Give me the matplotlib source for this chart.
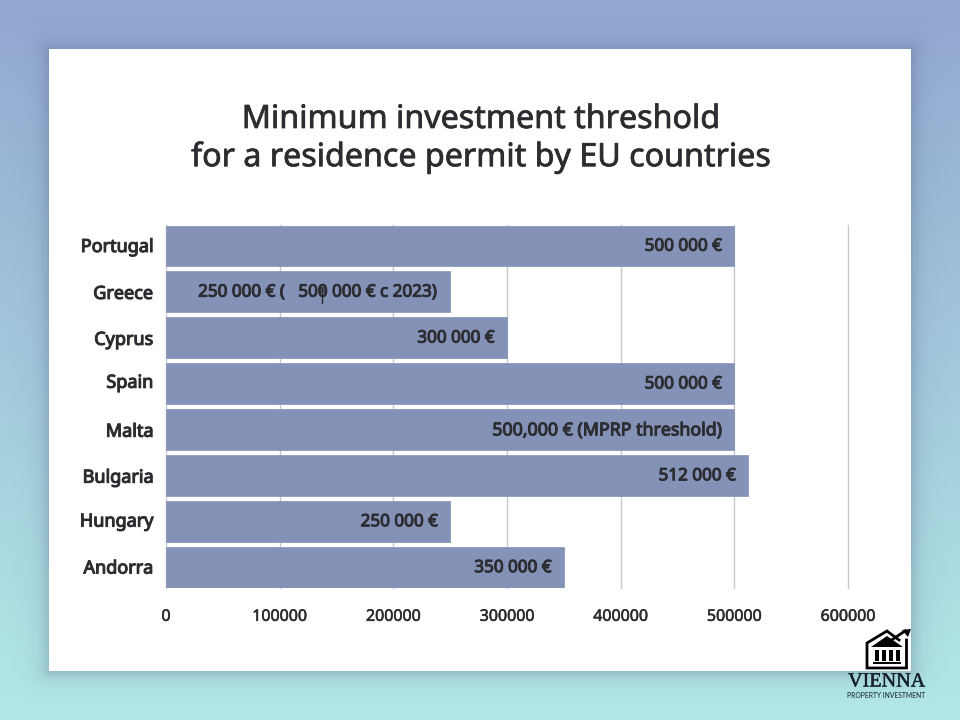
import matplotlib as mpl
import matplotlib.patheffects as pe
import matplotlib.pyplot as plt
import matplotlib.transforms as mtrans
import numpy as np
from matplotlib.patches import Polygon, Rectangle

countries = ['Portugal', 'Greece', 'Cyprus', 'Spain', 'Malta', 'Bulgaria', 'Hungary', 'Andorra']
thresholds = [500000, 250000, 300000, 500000, 500000, 512000, 250000, 350000]
value_labels = ['500 000 €', '250 000 € (   500 000 € c 2023)', '300 000 €', '500 000 €',
                '500,000 € (MPRP threshold)', '512 000 €', '250 000 €', '350 000 €']
xticks = [0, 100000, 200000, 300000, 400000, 500000, 600000]

W, H = 960, 720
BAR = '#8492b7'
DARK = '#2c2c31'

mpl.rcParams['font.family'] = ['Noto Sans', 'Open Sans', 'DejaVu Sans']

# Noto Sans only comes in regular here, so thicken it with a stroke
def heavy(w, color=DARK):
    return [pe.withStroke(linewidth=w, foreground=color)]

fig = plt.figure(figsize=(W/100, H/100), dpi=100)


# background, shadow and card in pixel coordinates
bg = fig.add_axes([0, 0, 1, 1], zorder=0)
bg.set_xlim(0, W)
bg.set_ylim(H, 0)
bg.axis('off')

top = np.array([0x93, 0xa7, 0xd1]) / 255
bottom = np.array([0xb2, 0xe9, 0xe6]) / 255
t = np.linspace(0, 1, 256)[:, None, None]
bg.imshow(top*(1-t) + bottom*t, extent=(0, W, H, 0), aspect='auto', zorder=0)

xx, yy = np.meshgrid(np.arange(W) + 0.5, np.arange(H) + 0.5)
dx = np.maximum(np.maximum(49 - xx, xx - 911), 0)
dy = np.maximum(np.maximum(49 - yy, yy - 671), 0)
dist = np.hypot(dx, dy)
shadow = np.zeros((H, W, 4))
shadow[..., :3] = (0.30, 0.36, 0.50)
shadow[..., 3] = 0.28*np.exp(-dist/9)
bg.imshow(shadow, extent=(0, W, H, 0), aspect='auto', zorder=1)
bg.set_xlim(0, W)
bg.set_ylim(H, 0)
bg.add_patch(Rectangle((49, 49), 862, 622, fc='white', ec='none', zorder=2))

bg.text(481, 119.5, 'Minimum investment threshold', ha='center', va='center', fontsize=23.2,
        color=DARK, zorder=3, path_effects=heavy(0.5))
bg.text(481, 157.5, 'for a residence permit by EU countries', ha='center', va='center', fontsize=23.2,
        color=DARK, zorder=3, path_effects=heavy(0.5))


# the chart itself
ax = fig.add_axes([166/W, 1 - 588/H, 682/W, 363/H], zorder=1)
ax.patch.set_alpha(0)
ypos = np.arange(len(countries))
ax.barh(ypos, thresholds, height=0.89, color=BAR, edgecolor=BAR, linewidth=0.5,
        joinstyle='round', zorder=2)
ax.set_xlim(0, 600000)
ax.set_ylim(7.447, -0.457)
ax.set_xticks(xticks)
ax.set_xticklabels([str(x) for x in xticks], fontsize=11.5, color=DARK, path_effects=heavy(0.4))
ax.set_yticks(ypos)
ax.set_yticklabels(countries, fontsize=13, color=DARK, path_effects=heavy(0.8))
ax.tick_params(axis='both', length=0)
ax.tick_params(axis='x', pad=15)
ax.tick_params(axis='y', pad=9)
ax.grid(axis='x', color='#c9c9c9', lw=1, zorder=1, clip_on=False)
ax.set_axisbelow(True)
for s in ax.spines.values():
    s.set_visible(False)

# the country labels sit a little unevenly in the original
label_shift = [1, 0, 0, 3, 0, 0, 2, 1]
for lab, d in zip(ax.get_yticklabels(), label_shift):
    lab.set_transform(lab.get_transform() + mtrans.ScaledTranslation(0, d/100, fig.dpi_scale_trans))

for y, v, lab in zip(ypos, thresholds, value_labels):
    size = 12.8 if 'MPRP' in lab else 12.3
    ax.annotate(lab, (v, y), xytext=(-8.5, -0.5), textcoords='offset points', ha='right',
                va='center', fontsize=size, color=DARK, zorder=3, path_effects=heavy(0.75))


# stray mark in the Greece label and the logo, on top of everything
top_ax = fig.add_axes([0, 0, 1, 1], zorder=2)
top_ax.set_xlim(0, W)
top_ax.set_ylim(H, 0)
top_ax.axis('off')
top_ax.plot([322, 322], [287, 303], color=DARK, lw=1)
top_ax.add_patch(Rectangle((319, 287), 6, 6, fc=DARK, ec='none', alpha=0.6))

top_ax.plot([906.5, 906.5, 867, 867, 887, 899], [640, 668, 668, 643, 631, 640],
            color='black', lw=2, solid_joinstyle='miter')
top_ax.plot([893, 905], [639, 631], color='black', lw=2)
top_ax.add_patch(Polygon([[911, 629], [902, 630], [908, 637]], fc='black', ec='none'))
top_ax.add_patch(Polygon([[871, 647], [887, 636], [903, 647]], fc='black', ec='none'))
for cx in (877, 884, 891, 898):
    top_ax.add_patch(Rectangle((cx - 1.6, 650), 3.2, 11, fc='black', ec='none'))
top_ax.add_patch(Rectangle((873, 662), 28, 2.4, fc='black', ec='none'))

top_ax.text(886.5, 682, 'VIENNA', ha='center', va='center', fontsize=14.5,
            family='Liberation Serif', color='#16202a', path_effects=heavy(0.3, '#16202a'))
top_ax.text(886.5, 695, 'PROPERTY INVESTMENT', ha='center', va='center', fontsize=4.9,
            family='Lato', color='#16202a')

plt.savefig('out.png', dpi=100)
